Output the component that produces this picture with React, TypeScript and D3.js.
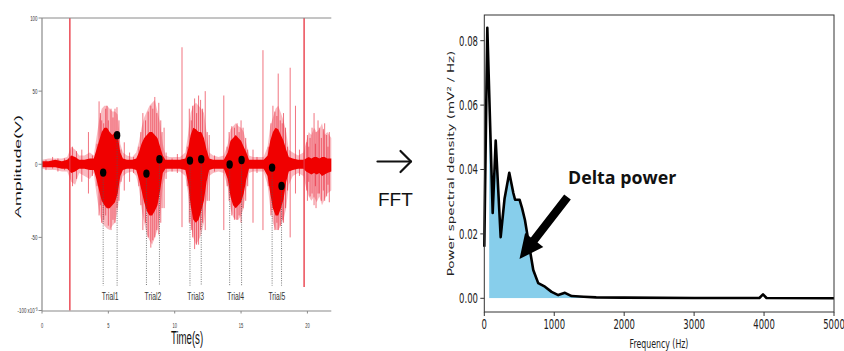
import React from "react";
import * as d3 from "d3";

// ---------- Left panel: raw signal (envelope) ----------
const sigT = [0, 0.5, 1.0, 1.5, 1.9, 2.2, 2.5, 2.8, 3.2, 3.6, 3.9, 4.1, 4.3, 4.5, 4.7, 4.9, 5.1, 5.3, 5.5, 5.7, 5.9, 6.1, 6.4, 6.8, 7.1, 7.3, 7.5, 7.7, 7.9, 8.1, 8.3, 8.5, 8.7, 8.9, 9.1, 9.3, 9.6, 10.0, 10.4, 10.8, 11.0, 11.2, 11.4, 11.6, 11.8, 12.0, 12.2, 12.4, 12.6, 12.9, 13.3, 13.7, 14.0, 14.2, 14.4, 14.6, 14.8, 15.0, 15.2, 15.4, 15.6, 15.9, 16.3, 16.7, 17.0, 17.2, 17.4, 17.6, 17.8, 18.0, 18.2, 18.4, 18.6, 18.9, 19.3, 19.7, 19.9, 20.1, 20.3, 20.5, 20.7, 20.9, 21.1, 21.3, 21.5, 21.8];
const coreHi = [2, 2, 3, 2, 3, 6, 5, 3, 3, 4, 4, 10, 16, 22, 25, 25, 22, 20, 22, 20, 8, 4, 3, 3, 4, 8, 14, 18, 20, 22, 22, 20, 18, 12, 6, 3, 3, 3, 3, 4, 10, 20, 25, 24, 22, 22, 18, 10, 4, 3, 3, 3, 8, 16, 18, 20, 18, 16, 12, 8, 3, 3, 3, 3, 6, 16, 22, 25, 24, 20, 16, 10, 5, 4, 3, 3, 4, 5, 4, 5, 5, 4, 5, 5, 4, 4];
const coreLo = [-2, -2, -2, -3, -3, -6, -5, -3, -3, -4, -4, -10, -18, -25, -28, -30, -30, -28, -26, -20, -8, -4, -3, -3, -4, -10, -18, -26, -32, -35, -35, -32, -28, -18, -6, -3, -3, -3, -3, -4, -12, -28, -38, -40, -38, -32, -25, -12, -4, -3, -3, -3, -10, -22, -28, -30, -28, -26, -20, -10, -3, -3, -3, -3, -8, -20, -30, -35, -35, -30, -24, -12, -5, -4, -3, -3, -5, -6, -7, -6, -7, -6, -8, -7, -6, -5];
const outHi = [3, 4, 4, 4, 5, 12, 10, 6, 6, 8, 6, 18, 30, 38, 40, 40, 38, 36, 36, 34, 14, 8, 6, 5, 8, 15, 25, 32, 36, 40, 42, 44, 36, 28, 14, 6, 5, 5, 5, 8, 20, 35, 40, 42, 40, 38, 35, 22, 8, 6, 5, 6, 14, 24, 26, 28, 26, 25, 22, 14, 6, 5, 5, 5, 12, 26, 32, 38, 40, 35, 30, 22, 10, 8, 6, 8, 15, 22, 20, 25, 22, 24, 28, 20, 22, 18];
const outLo = [-3, -4, -4, -5, -5, -12, -14, -6, -8, -10, -6, -20, -32, -40, -42, -44, -45, -42, -40, -32, -14, -8, -6, -5, -8, -16, -30, -40, -48, -52, -55, -50, -45, -35, -14, -6, -5, -5, -5, -8, -20, -40, -50, -55, -52, -48, -40, -25, -8, -6, -5, -6, -16, -30, -36, -38, -38, -35, -30, -16, -6, -5, -5, -5, -14, -30, -40, -45, -45, -42, -38, -30, -14, -8, -6, -8, -16, -22, -25, -22, -26, -22, -28, -24, -20, -18];

// individual spikes / burst strokes (time s, low, high)
const spikeT = [0.3, 0.8, 1.2, 1.7, 2.3, 2.6, 3.0, 3.5, 3.8,
  4.15, 4.3, 4.4, 4.5, 4.65, 4.8, 4.9, 5.0, 5.2, 5.35, 5.5, 5.65, 5.8, 5.95, 6.2, 6.6, 6.9,
  7.3, 7.45, 7.6, 7.8, 8.0, 8.2, 8.35, 8.5, 8.65, 8.8, 8.95, 9.05, 9.2, 9.35, 9.8, 10.2, 10.55,
  10.95, 11.1, 11.25, 11.35, 11.5, 11.65, 11.8, 11.95, 12.1, 12.3, 12.45, 12.6, 13.0, 13.7,
  13.95, 14.1, 14.3, 14.5, 14.7, 14.85, 15.0, 15.15, 15.35, 15.5, 15.9, 16.2, 16.65,
  17.05, 17.25, 17.4, 17.55, 17.7, 17.8, 17.95, 18.1, 18.2, 18.35, 18.5, 18.7, 19.1, 19.4,
  19.95, 20.0, 20.1, 20.2, 20.35, 20.5, 20.6, 20.65, 20.8, 20.9, 21.05, 21.2, 21.3, 21.45, 21.55, 21.65];
const spikeLo = [-4, -3, -5, -4, -15, -10, -12, -20, -8,
  -15, -35, -28, -40, -38, -35, -30, -42, -45, -38, -40, -30, -25, -12, -18, -12, -6,
  -15, -28, -45, -40, -50, -57, -52, -50, -45, -48, -40, -30, -30, -10, -5, -6, -43,
  -15, -40, -45, -50, -58, -55, -55, -45, -40, -45, -25, -25, -5, -45,
  -15, -25, -35, -38, -38, -35, -40, -30, -25, -15, -40, -6, -45,
  -15, -35, -30, -45, -40, -45, -42, -38, -40, -30, -18, -50, -20, -8,
  -18, -25, -12, -22, -20, -28, -15, -30, -20, -20, -25, -18, -25, -22, -14, -26];
const spikeHi = [3, 5, 4, 4, 12, 9, 10, 22, 6,
  14, 43, 35, 30, 28, 38, 40, 30, 38, 32, 38, 39, 30, 10, 15, 8, 5,
  12, 22, 35, 30, 36, 40, 38, 46, 35, 42, 30, 22, 25, 8, 4, 7, 80,
  12, 38, 30, 40, 45, 35, 47, 44, 38, 50, 22, 20, 6, 47,
  12, 22, 26, 25, 28, 22, 30, 25, 18, 10, 10, 5, 78,
  12, 28, 40, 36, 33, 62, 30, 28, 35, 25, 12, 66, 40, 10,
  15, 20, 12, 18, 25, 35, 14, 22, 30, 25, 18, 24, 28, 20, 12, 22];

const markerT = [2.1, 19.75];
const markerLo = [-100, -84];
const markerHi = [100, 100];

const dotT = [4.61, 5.66, 7.87, 8.85, 11.15, 12.0, 14.14, 15.04, 17.34, 18.05];
const dotV = [-5.7, 19.9, -6.4, 3.4, 2.5, 3.4, -0.2, 2.9, -2.3, -14.8];
const trialNames = ["Trial1", "Trial2", "Trial3", "Trial4", "Trial5"];

const ampTicks = [100, 50, 0, -50, -100];
const ampTickLabels = ["100", "50", "0", "-50", "-100 x10\u207B\u00B3"];
const timeTicks = [0, 5, 10, 15, 20];

// ---------- Right panel: power spectrum ----------
const freq = [0, 43, 120, 163, 234, 290, 357, 415, 440, 505, 540, 581, 629, 700, 771, 867, 962, 1057, 1153, 1248, 1420, 1600, 2000, 3000, 3933, 3985, 4035, 5000];
const psd = [0.016, 0.084, 0.0265, 0.049, 0.019, 0.031, 0.039, 0.0327, 0.0306, 0.0306, 0.028, 0.0243, 0.018, 0.0088, 0.0047, 0.0036, 0.002, 0.001, 0.0017, 0.0007, 0.0005, 0.0003, 0.0002, 0.0001, 0.0001, 0.0012, 0.0001, 0.0];
const psdTicks = [0, 0.02, 0.04, 0.06, 0.08];
const freqTicks = [0, 1000, 2000, 3000, 4000, 5000];
const deltaBand = [70, 1420];

type TP = {
  x: number; y: number; sx?: number; rot?: number; anchor?: string; size: number;
  family?: string; weight?: string | number; fill?: string; children: React.ReactNode;
};
function SText({ x, y, sx = 1, rot = 0, anchor = "start", size, family = "Liberation Sans, Arial, sans-serif", weight = "normal", fill = "#222", children }: TP) {
  return (
    <text
      transform={`translate(${x},${y}) scale(${sx},1) rotate(${rot})`}
      textAnchor={anchor}
      fontSize={size}
      fontFamily={family}
      fontWeight={weight}
      fill={fill}
    >
      {children}
    </text>
  );
}

export default function App() {
  const W = 844, H = 351;
  // left scales
  const xL = d3.scaleLinear().domain([0, 21.8]).range([42, 331.3]);
  const yL = d3.scaleLinear().domain([-100, 100]).range([310.5, 18]);
  const idx = d3.range(sigT.length);
  const outerArea = d3.area<number>().x((i) => xL(sigT[i])).y0((i) => yL(outLo[i])).y1((i) => yL(outHi[i]));
  const coreArea = d3.area<number>().x((i) => xL(sigT[i])).y0((i) => yL(coreLo[i])).y1((i) => yL(coreHi[i]));

  // right scales
  const xR = d3.scaleLinear().domain([0, 5000]).range([484.3, 834]);
  const yR = d3.scaleLinear().domain([0, 0.08]).range([298.3, 40.7]);
  const fIdx = d3.range(freq.length);
  const psdLine = d3.line<number>().x((i) => xR(freq[i])).y((i) => yR(psd[i]));
  const psdArea = d3.area<number>().x((i) => xR(freq[i])).y0(yR(0)).y1((i) => yR(psd[i]));
  const rTop = 15, rBot = 312;

  // big annotation arrow geometry
  const a0 = [567.5, 197], a1 = [519.5, 259];
  const dx = a1[0] - a0[0], dy = a1[1] - a0[1];
  const len = Math.hypot(dx, dy);
  const ux = dx / len, uy = dy / len, px = -uy, py = ux;
  const headL = 24, shaftW = 4.2, headW = 11.5;
  const bx = a1[0] - ux * headL, by = a1[1] - uy * headL;
  const arrowPts = [
    [a0[0] + px * shaftW, a0[1] + py * shaftW],
    [bx + px * shaftW, by + py * shaftW],
    [bx + px * headW, by + py * headW],
    [a1[0], a1[1]],
    [bx - px * headW, by - py * headW],
    [bx - px * shaftW, by - py * shaftW],
    [a0[0] - px * shaftW, a0[1] - py * shaftW],
  ].map((p) => p.join(",")).join(" ");

  const axisGray = "#8a8a8a";
  const narrow = "Liberation Sans, Arial, sans-serif";
  const dv = "DejaVu Sans, sans-serif";

  return (
    <svg width={W} height={H} style={{ position: "absolute", left: 0, top: 0, background: "#fff" }}>
      <defs>
        <clipPath id="deltaClip">
          <rect x={xR(deltaBand[0])} y={rTop} width={xR(deltaBand[1]) - xR(deltaBand[0])} height={yR(0) - rTop} />
        </clipPath>
      </defs>

      {/* ===== LEFT PANEL ===== */}
      <path d={outerArea(idx) || ""} fill="rgba(236,40,60,0.32)" />
      {spikeT.map((t, i) => (
        <line key={"s" + i} x1={xL(t)} x2={xL(t)} y1={yL(spikeLo[i])} y2={yL(spikeHi[i])} stroke="rgba(232,30,50,0.62)" strokeWidth={1} />
      ))}
      <path d={coreArea(idx) || ""} fill="#f00000" />
      {markerT.map((t, i) => (
        <line key={"m" + i} x1={xL(t)} x2={xL(t)} y1={yL(markerLo[i])} y2={yL(markerHi[i])} stroke="#e8303c" strokeWidth={1.3} />
      ))}
      {/* dotted guides, dots */}
      {dotT.map((t, i) => (
        <line key={"g" + i} x1={xL(t)} x2={xL(t)} y1={yL(dotV[i])} y2={yL(-83)} stroke="#555" strokeWidth={0.8} strokeDasharray="1,1.3" />
      ))}
      {dotT.map((t, i) => (
        <ellipse key={"d" + i} cx={xL(t)} cy={yL(dotV[i])} rx={3.2} ry={4.2} fill="#000" />
      ))}
      {trialNames.map((n, k) => (
        <SText key={n} x={xL((dotT[2 * k] + dotT[2 * k + 1]) / 2)} y={299.5} sx={0.64} anchor="middle" size={10.6} family={narrow} fill="#333">
          {n}
        </SText>
      ))}
      {/* axes */}
      <line x1={42} x2={331.3} y1={18} y2={18} stroke={axisGray} strokeWidth={1} />
      <line x1={42} x2={42} y1={18} y2={311} stroke={axisGray} strokeWidth={1.2} />
      <line x1={42} x2={331.3} y1={311} y2={311} stroke={axisGray} strokeWidth={1.2} />
      {ampTicks.map((v, i) => (
        <g key={"yt" + i}>
          <line x1={38.5} x2={42} y1={yL(v)} y2={yL(v)} stroke={axisGray} />
          <SText x={37.5} y={yL(v) + 2.6} sx={0.55} anchor="end" size={8} family={narrow} fill="#333">
            {ampTickLabels[i]}
          </SText>
        </g>
      ))}
      {timeTicks.map((v) => (
        <g key={"xt" + v}>
          <line x1={xL(v)} x2={xL(v)} y1={311} y2={313.5} stroke={axisGray} />
          <SText x={xL(v)} y={327.5} sx={0.5} anchor="middle" size={8} family={narrow} fill="#333">
            {String(v)}
          </SText>
        </g>
      ))}
      <SText x={187} y={344} sx={0.52} anchor="middle" size={18.5} family={narrow} fill="#111">
        Time(s)
      </SText>
      <SText x={20.5} y={166.5} sx={0.55} rot={-90} anchor="middle" size={17.8} family={narrow} fill="#111">
        Amplitude(V)
      </SText>

      {/* ===== FFT arrow ===== */}
      <g stroke="#111" strokeWidth={2.2} fill="none" strokeLinecap="round" strokeLinejoin="round">
        <line x1={377.5} x2={411} y1={161.5} y2={161.5} />
        <polyline points="400.5,151 411,161.5 400.5,172" />
      </g>
      <SText x={378} y={206} size={19} family={narrow} fill="#111">
        FFT
      </SText>

      {/* ===== RIGHT PANEL ===== */}
      <path d={psdArea(fIdx) || ""} fill="#87ceeb" clipPath="url(#deltaClip)" />
      <path d={psdLine(fIdx) || ""} fill="none" stroke="#000" strokeWidth={2.6} strokeLinejoin="round" />
      <rect x={484.3} y={rTop} width={834 - 484.3} height={rBot - rTop} fill="none" stroke="#333" strokeWidth={1} />
      {psdTicks.map((v) => (
        <g key={"pt" + v}>
          <line x1={480.3} x2={484.3} y1={yR(v)} y2={yR(v)} stroke="#333" />
          <SText x={478} y={yR(v) + 4.8} sx={0.63} anchor="end" size={13.5} family={dv} fill="#222">
            {v.toFixed(2)}
          </SText>
        </g>
      ))}
      {freqTicks.map((v) => (
        <g key={"ft" + v}>
          <line x1={xR(v)} x2={xR(v)} y1={rBot} y2={rBot + 4} stroke="#333" />
          <SText x={xR(v)} y={328.5} sx={0.63} anchor="middle" size={13.5} family={dv} fill="#222">
            {String(v)}
          </SText>
        </g>
      ))}
      <SText x={659} y={347.5} sx={0.6} anchor="middle" size={13} family={dv} fill="#222">
        Frequency (Hz)
      </SText>
      <SText x={453.5} y={163.5} sx={0.63} rot={-90} anchor="middle" size={13.5} family={dv} fill="#222">
        Power spectral density (mV² / Hz)
      </SText>

      {/* annotation */}
      <polygon points={arrowPts} fill="#000" />
      <SText x={568} y={183.5} size={17.8} family="Open Sans, sans-serif" weight={700} fill="#111">
        Delta power
      </SText>
    </svg>
  );
}
